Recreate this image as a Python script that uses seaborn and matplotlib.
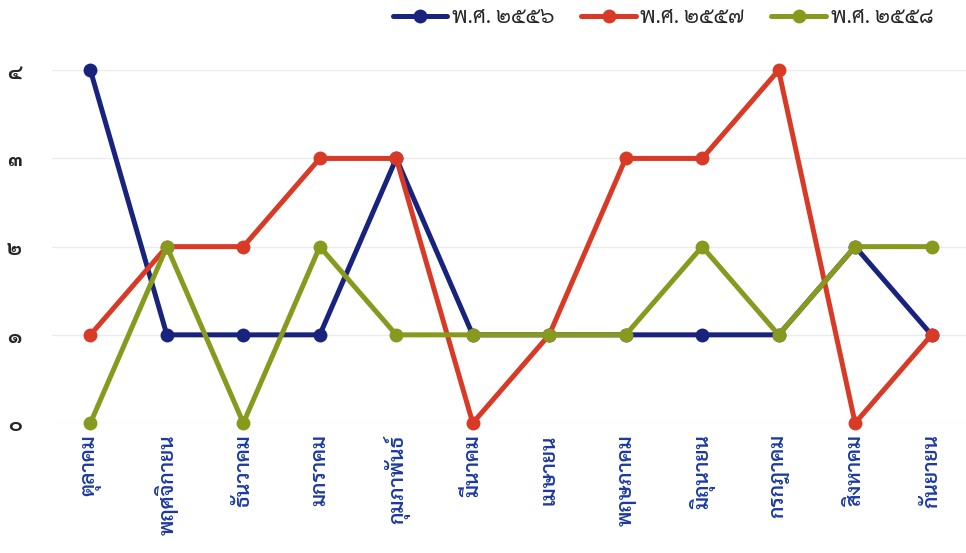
import matplotlib
matplotlib.use("Agg")
import matplotlib.pyplot as plt
import seaborn as sns
import pandas as pd

months = ['ตุลาคม', 'พฤศจิกายน', 'ธันวาคม', 'มกราคม', 'กุมภาพันธ์', 'มีนาคม',
          'เมษายน', 'พฤษภาคม', 'มิถุนายน', 'กรกฎาคม', 'สิงหาคม', 'กันยายน']
years = ['พ.ศ. ๒๕๕๖', 'พ.ศ. ๒๕๕๗', 'พ.ศ. ๒๕๕๘']
y2556 = [4, 1, 1, 1, 3, 1, 1, 1, 1, 1, 2, 1]
y2557 = [1, 2, 2, 3, 3, 0, 1, 3, 3, 4, 0, 1]
y2558 = [0, 2, 0, 2, 1, 1, 1, 1, 2, 1, 2, 2]
yticks = [0, 1, 2, 3, 4]
ytick_labels = ['๐', '๑', '๒', '๓', '๔']
colors = ['#18237e', '#d93a26', '#879a1e']

df = pd.DataFrame({
    'month': months * 3,
    'count': y2556 + y2557 + y2558,
    'year': [years[0]] * 12 + [years[1]] * 12 + [years[2]] * 12,
})

sns.set_style('white')
plt.rcParams['font.family'] = ['Sarabun', 'Noto Sans Thai', 'DejaVu Sans']

fig = plt.figure(figsize=(9.66, 5.53), dpi=100)
ax = fig.add_axes([0.054, 0.235, 0.946, 0.638])

sns.lineplot(data=df, x='month', y='count', hue='year', palette=colors,
             marker='o', markersize=10, markeredgewidth=0, linewidth=3.6,
             sort=False, ax=ax)
for ln in ax.lines:
    ln.set_clip_on(False)

ax.set_xlim(-0.5, 11.45)
ax.set_ylim(0, 4)
ax.set_yticks(yticks)
ax.set_yticklabels(ytick_labels, fontsize=15, fontweight='bold')
ax.set_xticks(range(len(months)))
ax.set_xticklabels(months, rotation=90, fontsize=15, fontweight='semibold', color='#1b39a2')
ax.tick_params(axis='both', length=0)
ax.tick_params(axis='y', pad=22)
ax.tick_params(axis='x', pad=8)
ax.set_xlabel('')
ax.set_ylabel('')
ax.grid(axis='y', color='#ebebeb', linewidth=1)
ax.grid(axis='x', visible=False)
sns.despine(ax=ax, left=True, bottom=True)

handles, labels = ax.get_legend_handles_labels()
ax.legend(handles, labels, loc='center right', bbox_to_anchor=(0.986, 0.968),
          bbox_transform=fig.transFigure, ncol=3, frameon=False,
          fontsize=15.5, handlelength=2.55, columnspacing=1.25, handletextpad=0.2)

fig.savefig('out.png', dpi=100)
